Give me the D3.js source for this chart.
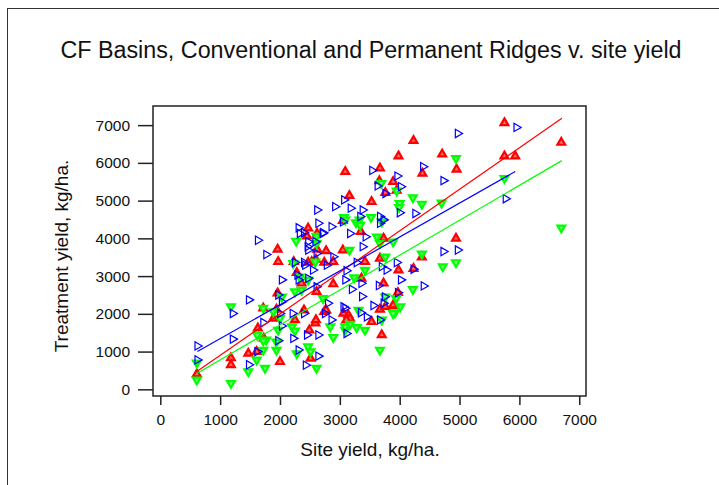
<!DOCTYPE html>
<html>
<head>
<meta charset="utf-8">
<script src="https://cdn.jsdelivr.net/npm/d3@7"></script>
<style>
  body { margin: 0; background: #fff; }
  svg { display: block; font-family: "Liberation Sans", Arial, sans-serif; }
  .axis text { font-size: 15.5px; fill: #111; }
  .axis line { stroke: #222; stroke-width: 1.5; }
  .axis path { display: none; }
</style>
</head>
<body>
<svg id="chart"></svg>
<script>
// Values: [site yield, treatment yield] in kg/ha
const xTicks = [0, 1000, 2000, 3000, 4000, 5000, 6000, 7000];
const yTicks = [0, 1000, 2000, 3000, 4000, 5000, 6000, 7000];

// red, up triangles
const redPts = [
  [610,400],[1180,830],[1180,650],[1470,950],[1610,1000],[1630,1620],[1730,1350],[1720,2150],
  [1960,3710],[1970,3380],[2000,730],[1960,2550],[1940,2120],[1890,1880],
  [2230,3380],[2280,3090],[2470,4270],[2450,4060],[2620,4130],[2620,3710],[2770,3670],
  [2530,3380],[2600,3440],[2740,3360],[2470,3360],[2890,3380],[2360,2810],[2610,2590],
  [2890,2790],[2250,1840],[2400,2100],[2490,1570],[2510,820],[2590,1750],[2600,1840],
  [2740,2060],[3140,1970],[3050,3690],[3350,4180],[3420,3380],[3670,3470],[3980,3160],
  [3730,2810],[3360,2940],[2770,2100],[3060,2010],[3170,1880],[3670,2120],[3760,2190],
  [3900,2210],[3530,1790],[3110,1840],[3700,1440],[3890,2230],[3970,2560],[4230,3200],
  [4370,3500],[4940,4000],[3090,5770],[3160,5130],[3530,4970],[3670,5860],[3660,5520],
  [3760,5210],[3950,5270],[3890,5500],[3980,6180],[4230,6590],[4380,5720],[4710,6230],
  [4950,5830],[5750,7060],[5750,6180],[5930,6180],[6700,6540],[3730,4000],[3050,4470]
];

// green, down triangles
const greenPts = [
  [610,700],[610,250],[1180,2190],[1180,160],[1470,470],[1610,780],[1750,560],[1620,1440],
  [1770,1310],[1720,1040],[1720,1290],[1720,2150],[1940,1040],[1940,1260],[1970,1570],
  [2000,1880],[1890,2060],[2030,2450],[2250,2590],[2220,3340],[2270,3930],[2610,4060],
  [2610,3870],[2470,2900],[2330,2980],[2360,2630],[2720,2410],[2590,3380],[2200,1660],
  [2250,1550],[2280,950],[2470,1130],[2510,1000],[2610,560],[2890,1380],[3090,1570],
  [3070,4560],[3330,4490],[3520,4560],[3700,4440],[3270,4420],[3090,4490],[3340,4350],
  [3690,5460],[3950,5260],[4000,4930],[3990,4820],[4220,5080],[4370,4910],[4700,4940],
  [4940,6120],[5750,5590],[6700,4280],[3890,3910],[3620,4040],[3670,3870],[3160,3690],
  [3760,3510],[4370,3590],[4720,3250],[4940,3360],[3420,3160],[3240,2960],[3940,2410],
  [4220,2650],[3310,2100],[3920,2030],[3700,1840],[3090,1660],[2840,1660],[3280,1640],
  [3670,1040],[3420,1570],[3170,1730],[3890,2010],[4010,2190],[3760,2450]
];

// blue, right-pointing open triangles
const bluePts = [
  [620,1150],[620,780],[1210,2010],[1210,1330],[1480,2370],[1480,650],[1620,1000],[1630,3950],
  [1770,3570],[1720,1770],[2030,2900],[1970,2500],[2030,2320],[2000,2010],[2030,1680],
  [1970,1290],[2310,4280],[2400,4150],[2470,3910],[2460,3780],[2710,4130],[2640,4400],
  [2620,4750],[2920,4840],[2860,4310],[3050,4440],[2330,4130],[2720,4150],[2590,3910],
  [2470,3690],[2610,3600],[2400,3360],[2550,3160],[2290,3030],[2310,2900],[2890,3510],
  [2250,3360],[2420,3290],[2780,3290],[2470,2940],[2610,2720],[3090,2900],[2210,2010],
  [2400,2010],[2220,1350],[2310,1040],[2450,1440],[2430,640],[2640,880],[2640,1440],
  [2750,2010],[2800,2280],[2860,1840],[3090,2150],[3110,1480],[3070,5020],[3180,4800],
  [3380,4750],[3540,5800],[3630,5390],[3760,5190],[3960,5650],[4020,5370],[4000,4680],
  [3670,4580],[3730,4490],[3340,4580],[4260,4660],[4390,5900],[4730,5530],[4970,6780],
  [5950,6940],[5770,5050],[4970,3690],[4730,3650],[4400,2740],[4230,3180],[3170,4130],
  [3380,3780],[3430,4040],[3670,4400],[3280,3360],[3110,3140],[3700,3250],[3950,3360],
  [3780,3160],[4020,2900],[3650,2750],[3360,2810],[3200,2650],[3970,2560],[3750,2450],
  [3370,2460],[3060,2190],[3350,2030],[3560,2220],[3730,2280],[3450,1920],[3670,1840]
];

// fitted lines, endpoints
const redFit = [[610,470],[6710,7180]];
const greenFit = [[610,420],[6710,6060]];
const blueFit = [[620,1000],[5930,5770]];

class Scatterplot {

  constructor(_config, _series) {
    this.config = {
      parentElement: _config.parentElement,
      containerWidth: _config.containerWidth || 719,
      containerHeight: _config.containerHeight || 485,
      plot: _config.plot
    };
    this.series = _series;
    this.initVis();
  }

  initVis() {
    let vis = this;
    const p = vis.config.plot;

    vis.svg = d3.select(vis.config.parentElement)
        .attr('width', vis.config.containerWidth)
        .attr('height', vis.config.containerHeight);

    // outer page frame (only top and left edges show)
    vis.svg.append('rect')
        .attr('x', 7.5).attr('y', 8.5)
        .attr('width', 900).attr('height', 700)
        .attr('fill', 'none')
        .attr('stroke', '#333')
        .attr('stroke-width', 1);

    vis.xScale = d3.scaleLinear()
        .domain([-122, 7113])
        .range([p.left, p.right]);

    vis.yScale = d3.scaleLinear()
        .domain([-177, 7507])
        .range([p.bottom, p.top]);

    vis.xAxis = d3.axisBottom(vis.xScale)
        .tickValues(xTicks)
        .tickFormat(d3.format('d'))
        .tickSize(9)
        .tickPadding(9)
        .tickSizeOuter(0);

    vis.yAxis = d3.axisLeft(vis.yScale)
        .tickValues(yTicks)
        .tickFormat(d3.format('d'))
        .tickSize(15)
        .tickPadding(8)
        .tickSizeOuter(0);

    vis.chart = vis.svg.append('g');

    vis.svg.append('g')
        .attr('class', 'axis x-axis')
        .attr('transform', `translate(0,${p.bottom})`)
        .call(vis.xAxis);

    vis.svg.append('g')
        .attr('class', 'axis y-axis')
        .attr('transform', `translate(${p.left},0)`)
        .call(vis.yAxis);

    // plot box
    vis.svg.append('rect')
        .attr('x', p.left).attr('y', p.top)
        .attr('width', p.right - p.left)
        .attr('height', p.bottom - p.top)
        .attr('fill', 'none')
        .attr('stroke', '#222')
        .attr('stroke-width', 1.5);

    vis.svg.append('text')
        .attr('x', 371)
        .attr('y', 58)
        .attr('text-anchor', 'middle')
        .style('font-size', '23.3px')
        .attr('fill', '#111')
        .text('CF Basins, Conventional and Permanent Ridges v. site yield');

    vis.svg.append('text')
        .attr('x', 370)
        .attr('y', 456)
        .attr('text-anchor', 'middle')
        .style('font-size', '19px')
        .attr('fill', '#111')
        .text('Site yield, kg/ha.');

    vis.svg.append('text')
        .attr('transform', 'translate(68,256) rotate(-90)')
        .attr('text-anchor', 'middle')
        .style('font-size', '19px')
        .attr('fill', '#111')
        .text('Treatment yield, kg/ha.');

    vis.renderVis();
  }

  renderVis() {
    let vis = this;

    vis.series.forEach(s => {
      const sym = d3.symbol().type(d3.symbolTriangle).size(s.size);
      vis.chart.selectAll(`.pt-${s.key}`)
          .data(s.points)
        .join('path')
          .attr('class', `pt-${s.key}`)
          .attr('d', sym)
          .attr('transform', d => `translate(${vis.xScale(d[0])},${vis.yScale(d[1])}) rotate(${s.rotate})`)
          .attr('fill', s.fill)
          .attr('stroke', s.color)
          .attr('stroke-width', s.strokeWidth);
    });

    const line = d3.line()
        .x(d => vis.xScale(d[0]))
        .y(d => vis.yScale(d[1]));

    vis.series.forEach(s => {
      vis.chart.append('path')
          .datum(s.fit)
          .attr('d', line)
          .attr('fill', 'none')
          .attr('stroke', s.color)
          .attr('stroke-width', 1.2);
    });
  }
}

const series = [
  {key: 'red', points: redPts, fit: redFit, color: '#ff0000', fill: '#ff6a6a', strokeWidth: 2.2, size: 26, rotate: 0},
  {key: 'green', points: greenPts, fit: greenFit, color: '#00ff00', fill: '#70ff70', strokeWidth: 2.2, size: 26, rotate: 180},
  {key: 'blue', points: bluePts, fit: blueFit, color: '#0000ff', fill: 'none', strokeWidth: 1.2, size: 30, rotate: 90}
];

new Scatterplot({
  parentElement: '#chart',
  containerWidth: 719,
  containerHeight: 485,
  plot: {left: 153, right: 586, top: 106, bottom: 396}
}, series);
</script>
</body>
</html>
